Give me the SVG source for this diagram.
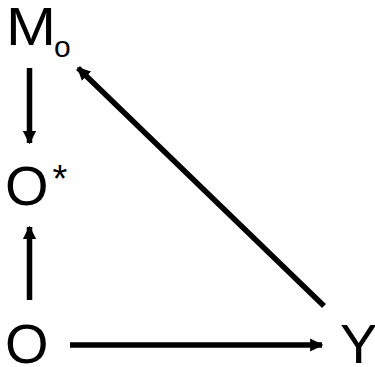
<svg xmlns="http://www.w3.org/2000/svg" width="375" height="367" viewBox="0 0 375 367">
<style>
.t{font-family:"Liberation Sans",Arial,sans-serif;font-size:56px;fill:#000}
.e{stroke:#000;stroke-width:5.5;fill:none}
</style>
<defs>
<marker id="ah" viewBox="0 0 10 10" refX="9" refY="5" markerWidth="2.4" markerHeight="2.4" orient="auto" markerUnits="strokeWidth">
<path d="M0,0L10,5L0,10z" fill="#000"/>
</marker>
</defs>
<g id="connectors">
<line class="e" x1="29.5" y1="68" x2="29.5" y2="143" marker-end="url(#ah)"/>
<line class="e" x1="29.5" y1="300" x2="29.5" y2="227" marker-end="url(#ah)"/>
<line class="e" x1="70" y1="345" x2="322" y2="345" marker-end="url(#ah)"/>
<line class="e" x1="324" y1="306" x2="78" y2="68" marker-end="url(#ah)"/>
</g>
<g id="Mo">
<text class="t" x="6" y="45" style="font-size:53px" textLength="50" lengthAdjust="spacingAndGlyphs">M</text>
<text class="t" x="54" y="57" style="font-size:30px">o</text>
</g>
<g id="Ostar"><text class="t" x="5" y="205">O<tspan style="font-size:38px" dx="4" dy="-13">*</tspan></text></g>
<g id="O"><text class="t" x="5" y="363">O</text></g>
<g id="Y"><text class="t" x="340" y="363">Y</text></g>
</svg>
